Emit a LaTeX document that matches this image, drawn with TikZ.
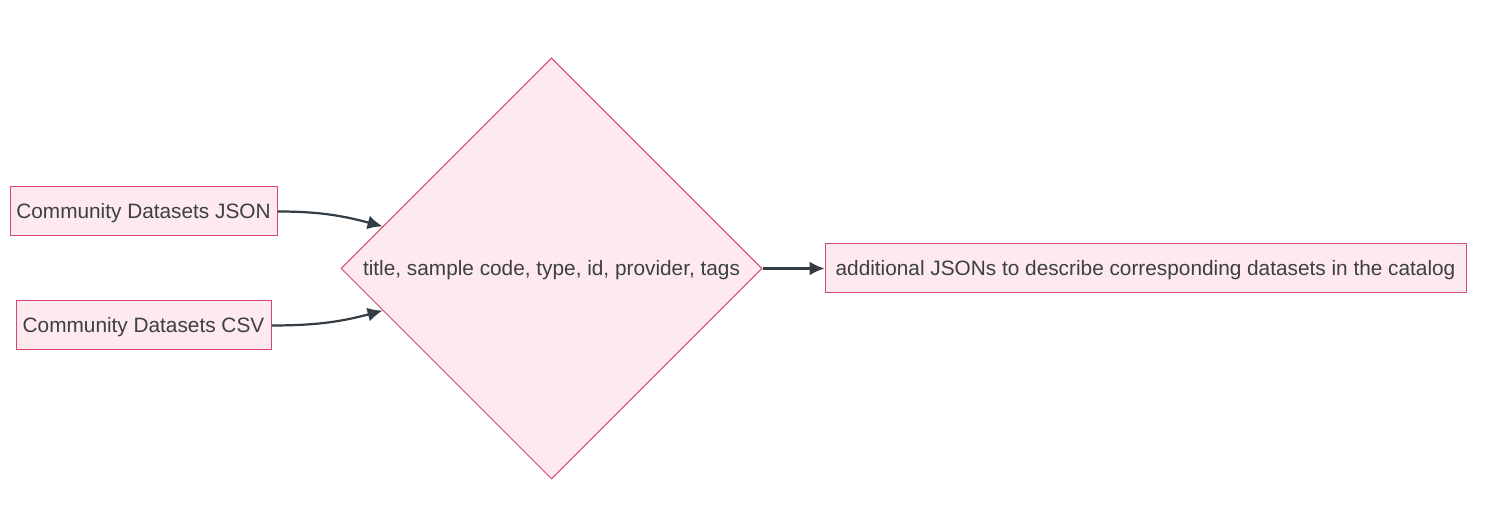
\documentclass[tikz,border=0pt]{standalone}
\usepackage{fontspec}
\setmainfont{Liberation Sans}
\usepackage{xcolor}
\usepackage{tikz}
\usetikzlibrary{positioning,shapes.geometric,arrows.meta}

\definecolor{boxfill}{RGB}{253,233,238}
\definecolor{boxline}{RGB}{214,72,112}
\definecolor{textgray}{RGB}{60,64,67}
\definecolor{linkgray}{RGB}{52,60,68}

\tikzset{
  databox/.style={draw=boxline, fill=boxfill, text=textgray, line width=0.5pt,
    minimum height=24.5pt, inner sep=0pt, text height=7.2pt, text depth=0pt,
    font=\fontsize{10.4}{12}\selectfont},
  filterdia/.style={diamond, aspect=1, draw=boxline, fill=boxfill, text=textgray,
    line width=0.5pt, inner sep=0pt, minimum width=210.5pt, minimum height=210.5pt,
    text height=7.2pt, text depth=0pt, font=\fontsize{10.4}{12}\selectfont},
  link/.style={draw=linkgray, line width=1.1pt, -{Latex[length=7.5pt,width=7pt]}}
}

\begin{document}
\begin{tikzpicture}[x=0.5pt,y=0.5pt]
\useasboundingbox (0,0) rectangle (1492,506);
\node[databox, minimum width=133.5pt] (json) at (143.5,294.5) {Community Datasets JSON};
\node[databox, minimum width=127.5pt] (csv) at (143.5,180.5) {Community Datasets CSV};
\node[filterdia] (fields) at (551.5,237.5) {title, sample code, type, id, provider, tags};
\node[databox, minimum width=320.5pt] (catalog) at (1145.5,237.5) {additional JSONs to describe corresponding datasets in the catalog};
\draw[link] (json.east) to[out=0,in=165] (fields.166);
\draw[link] (csv.east) to[out=0,in=195] (fields.194);
\draw[link] (fields.east) -- (catalog.west);
\end{tikzpicture}
\end{document}
